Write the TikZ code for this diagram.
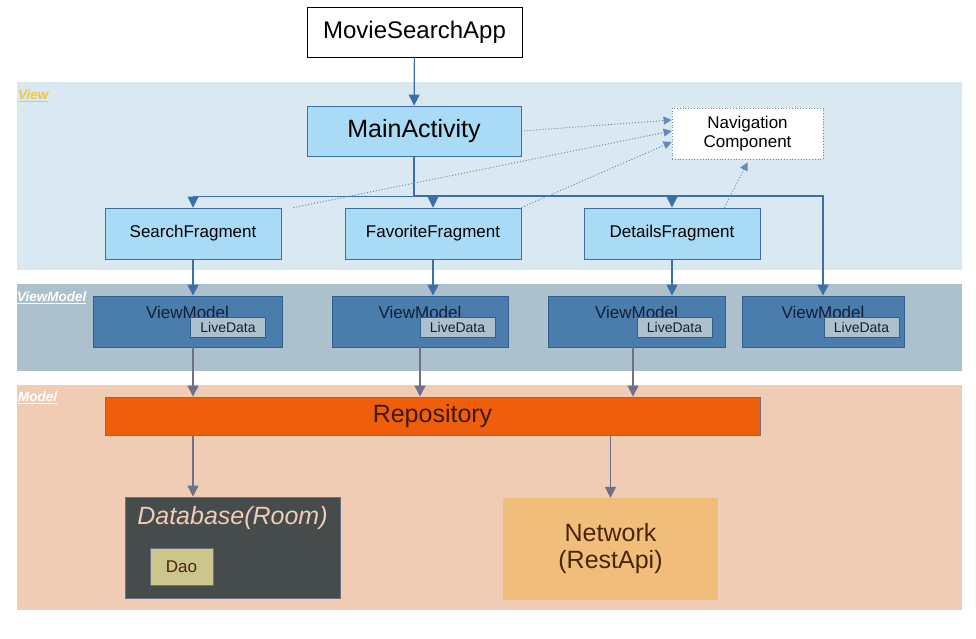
\documentclass[tikz,border=0pt]{standalone}
\usepackage{fontspec}
\setmainfont{Liberation Sans}
\usetikzlibrary{arrows.meta}

\definecolor{viewbg}{HTML}{DAE8F2}
\definecolor{vmbg}{HTML}{ACC1CC}
\definecolor{modelbg}{HTML}{F1CCB4}
\definecolor{actfill}{HTML}{A9DBF6}
\definecolor{actline}{HTML}{3C6EA8}
\definecolor{vmfill}{HTML}{4A7DAC}
\definecolor{vmline}{HTML}{2F5F8F}
\definecolor{vmtext}{HTML}{10203A}
\definecolor{repofill}{HTML}{EF5E0A}
\definecolor{repotext}{HTML}{3E1800}
\definecolor{greyline}{HTML}{6E7088}
\definecolor{dbfill}{HTML}{464B4B}
\definecolor{daofill}{HTML}{CDC68C}
\definecolor{netfill}{HTML}{F0BD7A}
\definecolor{nettext}{HTML}{4A2608}
\definecolor{labelyellow}{HTML}{F4C73E}

\tikzset{
  fsize/.style={font=\fontsize{#1}{#1}\selectfont},
  layer/.style={fill=#1,draw=none},
  layerlabel/.style={anchor=west,inner sep=0pt,text=#1,
    font=\fontsize{13.5}{13.5}\selectfont\bfseries\itshape},
  actbox/.style={draw=actline,fill=actfill,inner sep=0pt,line width=0.9pt},
  vmbox/.style={draw=vmline,fill=vmfill,inner sep=0pt,minimum height=51pt,line width=0.8pt},
  ldbox/.style={draw=vmline,fill=vmbg,inner sep=0pt,minimum height=20pt,fsize=14,text=vmtext,line width=0.8pt},
  flow/.style={draw=actline,line width=1.2pt,-{Triangle[width=11pt,length=11pt]}},
  lowflow/.style={draw=greyline,line width=1.1pt,-{Triangle[width=11pt,length=11pt]}},
  navflow/.style={draw=actline!80,dotted,line width=1pt,-{Triangle[width=8pt,length=8pt]}}
}

\begin{document}
\begin{tikzpicture}[x=1pt,y=-1pt]
\useasboundingbox[fill=white] (0,0) rectangle (976,639);

% the three layers
\fill[layer=viewbg] (17,82) rectangle (962,270);
\fill[layer=vmbg] (17,284) rectangle (962,371);
\fill[layer=modelbg] (17,385) rectangle (962,610);
\node[layerlabel=labelyellow] (lview) at (18,96) {\underbar{View}};
\node[layerlabel=white] (lvm) at (17,298) {\underbar{ViewModel}};
\node[layerlabel=white] (lmodel) at (18,398) {\underbar{Model}};

% app and activity
\node[draw=black,fill=white,line width=0.9pt,minimum width=215pt,minimum height=50pt,fsize=24] (app) at (414.5,32) {MovieSearchApp};
\node[actbox,minimum width=214pt,minimum height=50pt,fsize=25] (main) at (414,131) {MainActivity};
\node[draw=actline!80,dotted,fill=white,line width=0.8pt,minimum width=151pt,minimum height=51pt,
  align=center,fsize=17,inner sep=0pt] (nav) at (747.5,133.5) {Navigation\\[2pt]Component};

% fragments
\foreach \n/\cx/\txt in {sfrag/193/SearchFragment,ffrag/433/FavoriteFragment,dfrag/672/DetailsFragment}
  \node[actbox,minimum width=176pt,minimum height=51pt,fsize=17] (\n) at (\cx,233.5) {\txt};

% view models with their live data
\foreach \n/\cx/\w/\lx in {vm1/187.5/189/228,vm2/420/176/457.5,vm3/636.5/177/674.5,vm4/823/162/861.5}{
  \node[vmbox,minimum width=\w pt] (\n) at (\cx,321.5) {};
  \node[fsize=17,text=vmtext,inner sep=0pt] (\n t) at (\cx,312) {ViewModel};
  \node[ldbox,minimum width=75pt] (\n ld) at (\lx,327) {LiveData};
}

% model layer
\node[draw=greyline,fill=repofill,line width=0.9pt,minimum width=655pt,minimum height=38pt,
  fsize=25,text=repotext,inner sep=0pt] (repo) at (432.5,416) {Repository};
\node[draw=greyline,fill=dbfill,line width=0.9pt,minimum width=215pt,minimum height=101pt,inner sep=0pt] (db) at (232.5,547.5) {};
\node[fsize=25,text=modelbg,inner sep=0pt] (dbt) at (232.5,518) {\itshape Database(Room)};
\node[draw=greyline,fill=daofill,line width=0.6pt,minimum width=63pt,minimum height=37pt,
  fsize=17,text=nettext,inner sep=0pt] (dao) at (181.5,566.5) {Dao};
\node[fill=netfill,minimum width=215pt,minimum height=102pt,align=center,
  fsize=25,text=nettext,inner sep=0pt] (net) at (610.5,549) {Network\\[2pt](RestApi)};

% arrows
\coordinate (bus) at (0,196);
\draw[flow] (app) -- (main);
\foreach \f in {sfrag,ffrag,dfrag}
  \draw[flow,line width=0.9pt] (main.south) -- (main.south |- bus) -| (\f.north);
\draw[flow,line width=1.6pt] (main.south) -- (main.south |- bus) -| (vm4.north);
\draw[flow] (sfrag.south) -- (sfrag.south |- vm1.north);
\draw[flow] (ffrag.south) -- (ffrag.south |- vm2.north);
\draw[flow] (dfrag.south) -- (dfrag.south |- vm3.north);

\draw[lowflow] (sfrag.south |- vm1.south) -- (sfrag.south |- repo.north);
\draw[lowflow] (vm2.south) -- (vm2.south |- repo.north);
\draw[lowflow] ([xshift=-3.5pt]vm3.south) -- ([xshift=-3.5pt]vm3.south |- repo.north);
\draw[lowflow] (sfrag.south |- repo.south) -- (sfrag.south |- db.north);
\draw[lowflow] (net.north |- repo.south) -- (net.north);

% links to the navigation component
\draw[navflow] (main.east) -- ([yshift=13.5pt]nav.west);
\draw[navflow] ([xshift=12pt]sfrag.north east) -- ([yshift=2.5pt]nav.west);
\draw[navflow] (ffrag.north east) -- ([yshift=-8.5pt]nav.west);
\draw[navflow] ([xshift=-36pt]dfrag.north east) -- ([yshift=-3pt]nav.south);

\end{tikzpicture}
\end{document}
